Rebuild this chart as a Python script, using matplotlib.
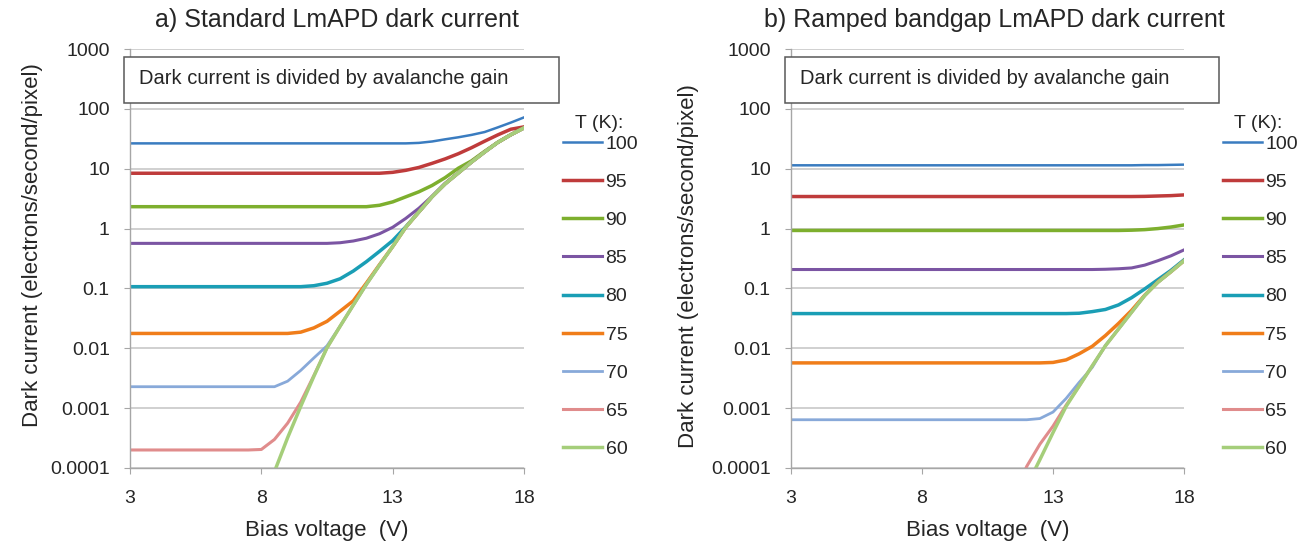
import matplotlib
matplotlib.use('Agg')
import matplotlib.pyplot as plt
from matplotlib.patches import Rectangle
import numpy as np

plt.rcParams['font.family'] = ['Liberation Sans', 'DejaVu Sans']

nan = np.nan

# 범례 항목 (온도 K)
temps = ['100', '95', '90', '85', '80', '75', '70', '65', '60']
colors = ['#3A7CC0', '#BF3B3B', '#7DAF2E', '#7B55A3', '#1A9EB5',
          '#F07D1A', '#88A9D9', '#E08C8C', '#A5CE7A']
widths = [1.8, 2.5, 2.5, 2.2, 2.5, 2.5, 2.0, 2.2, 2.5]

# a) Standard LmAPD : bias voltage (V)
volt_a = [3, 5, 7, 7.5, 8, 8.5, 9, 9.5, 10, 10.5, 11, 11.5, 12, 12.5,
          13, 13.5, 14, 14.5, 15, 15.5, 16, 16.5, 17, 17.5, 18]
a_100 = [26.5] * 16 + [27, 28.5, 31, 33.5, 36.7, 41, 49, 59, 72]
a_95 = [8.4] * 14 + [8.7, 9.4, 10.5, 12.3, 14.6, 17.8, 22.4, 28.8, 36.7, 45.7, 50]
a_90 = [2.32] * 13 + [2.45, 2.79, 3.39, 4.12, 5.25, 7.1, 10.2, 13.5, 19.5, 27.5, 37, 48.5]
a_85 = [0.566] * 10 + [0.58, 0.62, 0.69, 0.82, 1.05, 1.48, 2.19, 3.47, 5.75, 8.6,
                       12.9, 19, 27.5, 37, 48]
a_80 = [0.107] * 8 + [0.111, 0.122, 0.145, 0.195, 0.28, 0.417, 0.63, 1.07,
                      1.9, 3.4, 5.6, 8.5, 12.9, 19, 27.5, 37, 48]
a_75 = [0.0177] * 7 + [0.0186, 0.0219, 0.0282, 0.0417, 0.062, 0.123, 0.25,
                       0.50, 1.05, 1.9, 3.4, 5.6, 8.5, 12.9, 19, 27.5, 37, 48]
a_70 = [0.00228] * 6 + [0.00282, 0.00427, 0.0069, 0.011,
                        0.0234, 0.0525, 0.117, 0.245, 0.50, 1.05, 1.9, 3.4, 5.6,
                        8.5, 12.9, 19, 27.5, 37, 48]
a_65 = [0.0002] * 4 + [0.000204, 0.0003, 0.00056, 0.00126, 0.0035,
                       0.0102, 0.0234, 0.0525, 0.117, 0.245, 0.50, 1.05, 1.9, 3.4,
                       5.6, 8.5, 12.9, 19, 27.5, 37, 48]
a_60 = [nan] * 5 + [8.7e-5, 3.2e-4, 1.07e-3, 3.4e-3, 0.0102, 0.0234, 0.0525, 0.117,
                    0.245, 0.50, 1.05, 1.9, 3.4, 5.6, 8.5, 12.9, 19, 27.5, 37, 48]

# b) Ramped bandgap LmAPD
volt_b = [3, 5, 7, 9, 11, 11.5, 12, 12.5, 13, 13.5, 14, 14.5, 15, 15.5,
          16, 16.5, 17, 17.5, 18]
b_100 = [11.4] * 15 + [11.5, 11.5, 11.6, 11.7]
b_95 = [3.43] * 15 + [3.45, 3.5, 3.55, 3.65]
b_90 = [0.93] * 14 + [0.94, 0.96, 1.0, 1.06, 1.15]
b_85 = [0.207] * 12 + [0.209, 0.213, 0.22, 0.245, 0.29, 0.35, 0.44]
b_80 = [0.038] * 10 + [0.0385, 0.041, 0.0445, 0.053, 0.07, 0.098, 0.14, 0.20, 0.30]
b_75 = [0.0057] * 8 + [0.0058, 0.0064, 0.0081, 0.0108, 0.0163, 0.026, 0.043,
                       0.077, 0.128, 0.19, 0.29]
b_70 = [0.00064] * 7 + [0.00067, 0.00086, 0.00145, 0.0027, 0.0048, 0.0112, 0.021,
                        0.040, 0.076, 0.126, 0.19, 0.29]
b_65 = [nan] * 5 + [3.5e-5, 1.07e-4, 2.5e-4, 5.0e-4, 1.12e-3, 2.34e-3, 5.1e-3,
                    0.011, 0.021, 0.040, 0.076, 0.126, 0.19, 0.29]
b_60 = [nan] * 6 + [5e-5, 1.38e-4, 3.9e-4, 1.07e-3, 2.34e-3, 5.1e-3, 0.011, 0.021,
                    0.040, 0.076, 0.126, 0.19, 0.29]

x_ticks = [3, 8, 13, 18]
y_ticks = [0.0001, 0.001, 0.01, 0.1, 1, 10, 100, 1000]
y_labels = ['0.0001', '0.001', '0.01', '0.1', '1', '10', '100', '1000']

panels = [
    ('a) Standard LmAPD dark current', volt_a,
     [a_100, a_95, a_90, a_85, a_80, a_75, a_70, a_65, a_60]),
    ('b) Ramped bandgap LmAPD dark current', volt_b,
     [b_100, b_95, b_90, b_85, b_80, b_75, b_70, b_65, b_60]),
]

txt = '#262626'
fig = plt.figure(figsize=(13.16, 5.43), dpi=100)
axes_pos = [[130 / 1316, 75 / 543, 394 / 1316, 419 / 543],
            [791 / 1316, 75 / 543, 393 / 1316, 419 / 543]]
title_x = [337 / 1316, 994 / 1316]
ylabel_y = [0.532, 0.482]
ylabel_x = [-0.222, -0.234]

for i, (title, volt, series) in enumerate(panels):
    ax = fig.add_axes(axes_pos[i])
    for vals, t, c, w in zip(series, temps, colors, widths):
        ax.plot(volt, vals, color=c, lw=w, label=t)
    ax.set_yscale('log')
    ax.set_xlim(3, 18)
    ax.set_ylim(0.0001, 1000)
    ax.set_xticks(x_ticks)
    ax.set_xticklabels([str(v) for v in x_ticks])
    ax.set_yticks(y_ticks)
    ax.set_yticklabels(y_labels)
    ax.yaxis.set_minor_locator(matplotlib.ticker.NullLocator())
    ax.grid(axis='y', color='#D0D0D0', lw=1.4)
    ax.set_axisbelow(True)
    for s in ['top', 'right']:
        ax.spines[s].set_visible(False)
    for s in ['left', 'bottom']:
        ax.spines[s].set_color('#A6A6A6')
        ax.spines[s].set_linewidth(1.0)
    ax.tick_params(axis='x', length=4, color='#A6A6A6', pad=12, labelsize=14, labelcolor=txt)
    ax.tick_params(axis='y', length=4, color='#A6A6A6', pad=10.5, labelsize=14, labelcolor=txt)
    ax.set_xlabel('Bias voltage  (V)', fontsize=16, color=txt, labelpad=9)
    ax.set_ylabel('Dark current (electrons/second/pixel)', fontsize=16, color=txt)
    ax.yaxis.set_label_coords(ylabel_x[i], ylabel_y[i])
    fig.text(title_x[i], 0.963, title, fontsize=18, color=txt, ha='center', va='center')

    # 안내 박스
    ax.add_patch(Rectangle((-0.015, 0.870), 1.104, 0.112, transform=ax.transAxes,
                           facecolor='white', edgecolor='#595959', lw=1.1,
                           clip_on=False, zorder=5))
    ax.text(0.023, 0.93, 'Dark current is divided by avalanche gain', transform=ax.transAxes,
            fontsize=14.5, color=txt, va='center', ha='left', zorder=6)

    # 범례 (제목은 따로 텍스트로)
    leg = ax.legend(loc='upper left', bbox_to_anchor=(1.10, 0.795),
                    frameon=False, fontsize=14, handlelength=2.0,
                    handletextpad=0.17, labelspacing=1.06, borderpad=0, borderaxespad=0)
    for t in leg.get_texts():
        t.set_color(txt)
    ax.text(1.19, (468 - 123) / 419, 'T (K):', transform=ax.transAxes, fontsize=14,
            color=txt, ha='center', va='center')

fig.savefig('out.png', dpi=100)
